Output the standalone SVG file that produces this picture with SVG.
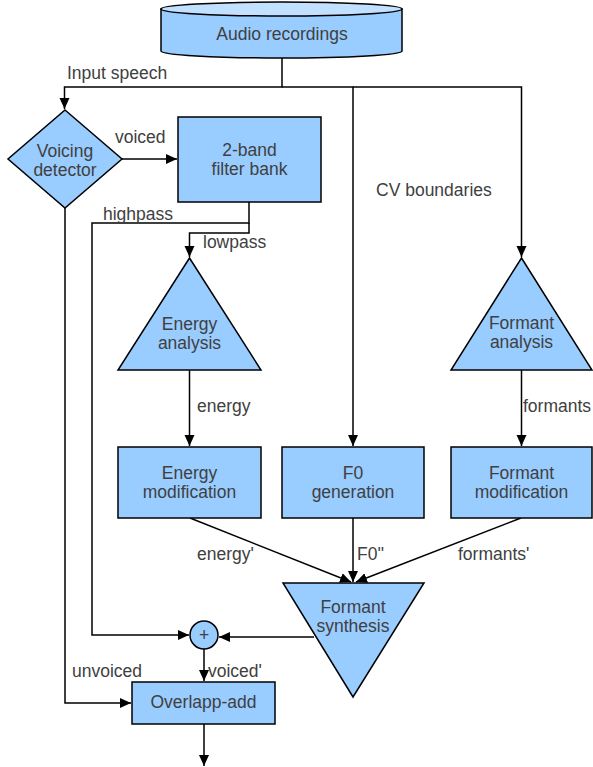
<svg xmlns="http://www.w3.org/2000/svg" width="593" height="767" viewBox="0 0 593 767">
<style>
.n{fill:#99ccff;stroke:#000;stroke-width:1.5}
.t{font-family:"Liberation Sans",Arial,sans-serif;font-size:17.5px;fill:#404040}
.m{text-anchor:middle}
.c{fill:none;stroke:#000;stroke-width:1.5}
</style>
<defs>
<marker id="a" markerUnits="userSpaceOnUse" markerWidth="12" markerHeight="12" viewBox="0 0 12 12" refX="11" refY="6" orient="auto">
<path d="M0,1 L11,6 L0,11 Z" fill="#000"/>
</marker>
</defs>
<rect width="593" height="767" fill="#fff"/>
<g id="connectors">
<path class="c" d="M282,58 V87 H64.5 V109" marker-end="url(#a)"/>
<path class="c" d="M282,87 H353 V446" marker-end="url(#a)"/>
<path class="c" d="M353,87 H521.5 V257" marker-end="url(#a)"/>
<path class="c" d="M122,159 H177" marker-end="url(#a)"/>
<path class="c" d="M249,202 V223 H92 V635 H189" marker-end="url(#a)"/>
<path class="c" d="M249,223 V233 H189.5 V257" marker-end="url(#a)"/>
<path class="c" d="M189.5,370 V446" marker-end="url(#a)"/>
<path class="c" d="M521.5,370 V446" marker-end="url(#a)"/>
<path class="c" d="M190,518 L351,582" marker-end="url(#a)"/>
<path class="c" d="M353,518 V582" marker-end="url(#a)"/>
<path class="c" d="M521,518 L356,582" marker-end="url(#a)"/>
<path class="c" d="M314,637 H219" marker-end="url(#a)"/>
<path class="c" d="M204,649 V681" marker-end="url(#a)"/>
<path class="c" d="M65,208 V703 H131" marker-end="url(#a)"/>
<path class="c" d="M204,724 V766" marker-end="url(#a)"/>
</g>
<g id="labels">
<text class="t" x="67" y="79">Input speech</text>
<text class="t" x="115" y="143">voiced</text>
<text class="t" x="103" y="220">highpass</text>
<text class="t" x="203" y="248">lowpass</text>
<text class="t" x="376" y="196">CV boundaries</text>
<text class="t" x="197" y="412">energy</text>
<text class="t" x="523" y="412">formants</text>
<text class="t" x="197" y="560">energy'</text>
<text class="t" x="357" y="560">F0''</text>
<text class="t" x="458" y="560">formants'</text>
<text class="t" x="72" y="677">unvoiced</text>
<text class="t" x="208" y="677">voiced'</text>
</g>
<g id="audio">
<path class="n" d="M161,9 V51 A120.5,7 0 0 0 402,51 V9 Z"/>
<ellipse cx="281.5" cy="9" rx="120.5" ry="7" fill="#c2e0ff" stroke="#000" stroke-width="1.5"/>
<text class="t m" x="282" y="40">Audio recordings</text>
</g>
<g id="voicing">
<polygon class="n" points="65,110 122,159 65,208 8,159"/>
<text class="t m" x="65" y="157">Voicing</text>
<text class="t m" x="65" y="176">detector</text>
</g>
<g id="filterbank">
<rect class="n" x="178" y="117" width="143" height="85"/>
<text class="t m" x="249.5" y="156">2-band</text>
<text class="t m" x="249.5" y="175">filter bank</text>
</g>
<g id="energyanalysis">
<polygon class="n" points="189.5,258 261,370 118,370"/>
<text class="t m" x="189.5" y="330">Energy</text>
<text class="t m" x="189.5" y="349">analysis</text>
</g>
<g id="formantanalysis">
<polygon class="n" points="521.5,258 592,370 451,370"/>
<text class="t m" x="521.5" y="329">Formant</text>
<text class="t m" x="521.5" y="348">analysis</text>
</g>
<g id="energymod">
<rect class="n" x="118" y="447" width="143" height="71"/>
<text class="t m" x="189.5" y="479">Energy</text>
<text class="t m" x="189.5" y="498">modification</text>
</g>
<g id="f0gen">
<rect class="n" x="282" y="447" width="142" height="71"/>
<text class="t m" x="353" y="479">F0</text>
<text class="t m" x="353" y="498">generation</text>
</g>
<g id="formantmod">
<rect class="n" x="451" y="447" width="141" height="71"/>
<text class="t m" x="521.5" y="479">Formant</text>
<text class="t m" x="521.5" y="498">modification</text>
</g>
<g id="formantsynth">
<polygon class="n" points="283,583 424,583 353,697"/>
<text class="t m" x="353" y="613">Formant</text>
<text class="t m" x="353" y="632">synthesis</text>
</g>
<g id="sum">
<circle class="n" cx="204" cy="635" r="14"/>
<text class="t m" x="204" y="641">+</text>
</g>
<g id="overlapadd">
<rect class="n" x="132" y="682" width="143" height="42"/>
<text class="t m" x="203.5" y="708">Overlapp-add</text>
</g>
</svg>
